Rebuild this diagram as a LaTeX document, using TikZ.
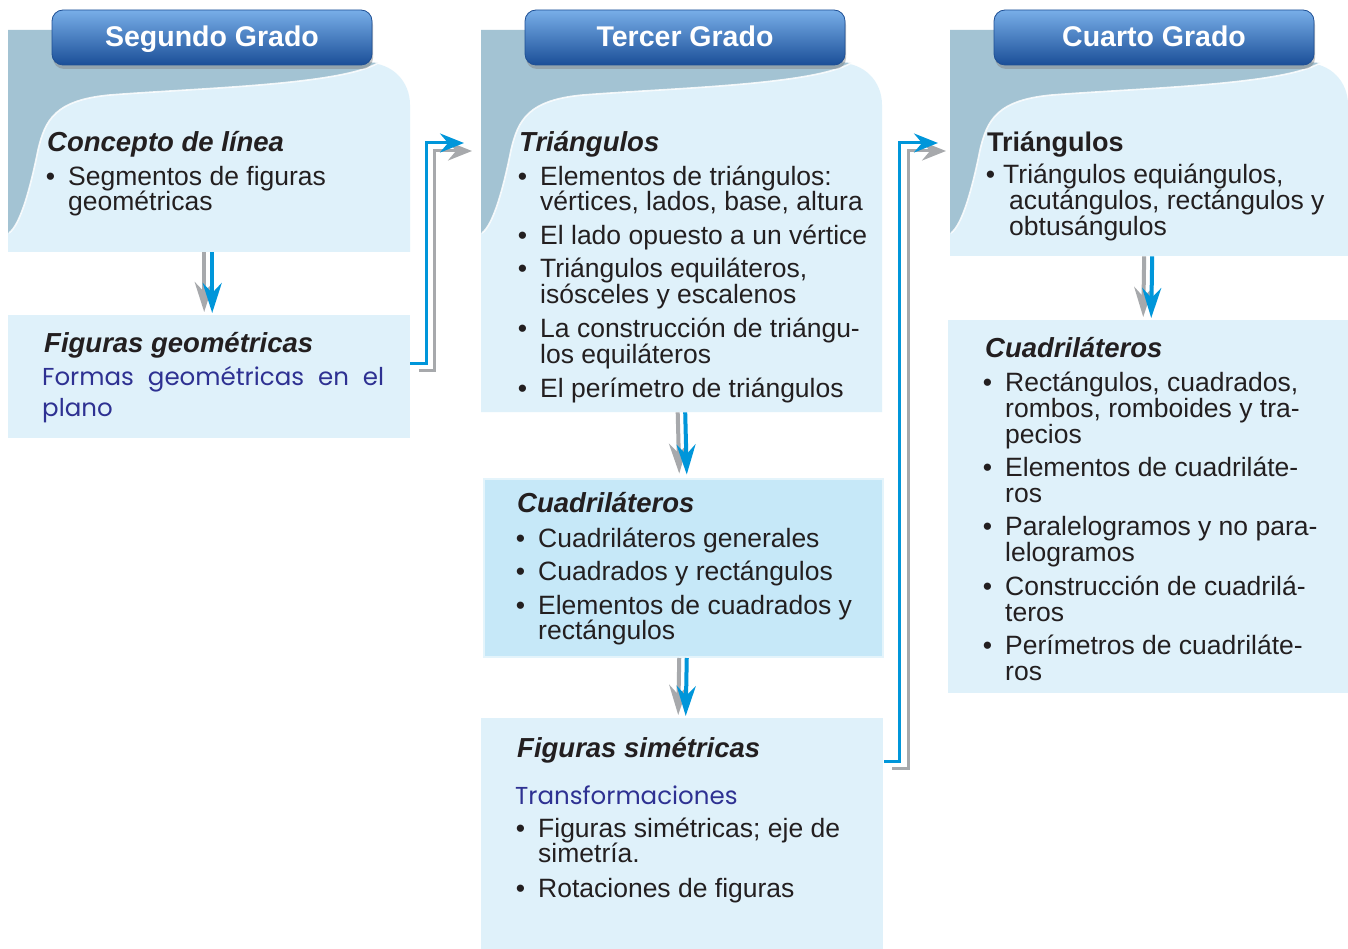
\documentclass[tikz,border=0pt]{standalone}
\usepackage{fontspec}
\setmainfont{Liberation Sans}
\newfontfamily\geofont{Poppins}
\usetikzlibrary{arrows.meta,shadows}
\definecolor{panelc}{HTML}{DFF1FA}
\definecolor{darkc}{HTML}{A3C3D3}
\definecolor{cuadc}{HTML}{C6E8F8}
\definecolor{cuadborder}{HTML}{E4F4FB}
\definecolor{textc}{HTML}{231F20}
\definecolor{geoblue}{HTML}{2E3192}
\definecolor{arrblue}{HTML}{0096DA}
\definecolor{arrgray}{HTML}{A7A9AC}
\definecolor{bantop}{HTML}{78AEE8}
\definecolor{banmid}{HTML}{2A73C6}
\definecolor{banbot}{HTML}{1B4F98}
\definecolor{banedge}{HTML}{1E4F94}
\newcommand\bul{\llap{\textbullet\hspace{13pt}}}
\newcommand\bulb{\llap{\textbullet\hspace{8pt}}}
\newcommand\txtline[4]{\node[txt] (#1) at (#2,#3) {#4};}
\newcommand\gradepanel[5]{%
 \begin{scope}[xshift=#1pt]
  \fill[panelc] (8,#3) -- (8,63) -- (#2-42,63) .. controls (#2-18,63) and (#2,81) .. (#2,105) -- (#2,#3) -- cycle;
  \fill[darkc] (8,30) -- (366,30) -- (366,62) -- (378,63) .. controls (340,85) and (200,88) .. (110,95)
     .. controls (55,100) and (45,120) .. (38,150) .. controls (30,190) and (20,225) .. (9,233) -- (8,233) -- cycle;
  \draw[white, line width=1.6pt, opacity=0.85] (378,63) .. controls (340,85) and (200,88) .. (110,95)
     .. controls (55,100) and (45,120) .. (38,150) .. controls (30,190) and (20,225) .. (9,233);
  \node[banner] (#5) at (212,37.5) {#4};
 \end{scope}}
\begin{document}
\begin{tikzpicture}[x=1pt,y=-1pt,
  txt/.style={inner sep=0pt, anchor=base west, text=textc, font=\fontsize{26.5}{26}\selectfont},
  hdbi/.style={txt, font=\fontsize{27.5}{28}\selectfont\bfseries\itshape},
  hdb/.style={txt, font=\fontsize{27}{28}\selectfont\bfseries},
  geo/.style={txt, text=geoblue, font=\fontsize{24.5}{26}\geofont},
  banner/.style={rounded corners=11pt, minimum width=320pt, minimum height=55pt, inner sep=0pt,
     top color=bantop, middle color=banmid, bottom color=banbot, draw=banedge, line width=0.8pt,
     text=white, font=\fontsize{28.5}{30}\selectfont\bfseries, text height=20pt, text depth=1pt,
     drop shadow={opacity=0.45, shadow xshift=1pt, shadow yshift=-4pt}},
  area/.style={inner sep=0pt, anchor=north west},
  lightbox/.style={area, fill=panelc},
  cuadbox/.style={area, fill=cuadc, draw=cuadborder, line width=2.5pt},
  downblue/.style={draw=arrblue, line width=4pt, -{Stealth[length=30pt,width=19pt,inset=10pt]}},
  downgray/.style={draw=arrgray, line width=4pt, -{Stealth[length=30pt,width=19pt,inset=10pt]}},
  elbblue/.style={draw=arrblue, line width=3pt, miter limit=10, -{Stealth[length=24pt,width=19pt,inset=8pt]}},
  elbgray/.style={draw=arrgray, line width=3pt, miter limit=10, -{Stealth[length=24pt,width=19pt,inset=8pt]}}
]
\useasboundingbox (0,0) rectangle (1348,949);
\fill[white] (0,0) rectangle (1348,949);

% invisible panel areas
\node[area, minimum width=402pt, minimum height=222pt] (p1) at (8,30) {};
\node[area, minimum width=401pt, minimum height=382pt] (p2) at (481,30) {};
\node[area, minimum width=398pt, minimum height=226pt] (p3) at (950,30) {};

% panels with banners
\gradepanel{0}{410}{252}{Segundo Grado}{ban1}
\gradepanel{473}{409}{412}{Tercer Grado}{ban2}
\gradepanel{942}{406}{256}{Cuarto Grado}{ban3}

% boxes
\node[lightbox, minimum width=402pt, minimum height=123pt] (b1) at (8,315) {};
\node[cuadbox, minimum width=399pt, minimum height=178pt] (c2) at (482.5,477.5) {};
\node[lightbox, minimum width=402pt, minimum height=231pt] (f2) at (481,718) {};
\node[lightbox, minimum width=400pt, minimum height=373pt] (c3) at (948,320) {};

% vertical arrows
\draw[downgray] ([xshift=-5pt]p1.south) -- ([xshift=-5pt,yshift=3pt]b1.north);
\draw[downblue] ([xshift=3pt]p1.south) -- ([xshift=3pt,yshift=2pt]b1.north);
\draw[downgray] ([xshift=-4pt]p2.south) -- ([xshift=-4pt,yshift=4pt]c2.north);
\draw[downblue] ([xshift=3.5pt]p2.south) -- ([xshift=3.5pt,yshift=3pt]c2.north);
\draw[downgray] ([xshift=-4pt]c2.south) -- ([xshift=-4pt,yshift=3pt]f2.north);
\draw[downblue] ([xshift=3.5pt]c2.south) -- ([xshift=3.5pt,yshift=2pt]f2.north);
\draw[downgray] ([xshift=-5pt]p3.south) -- ([xshift=-5pt,yshift=3pt]c3.north);
\draw[downblue] ([xshift=3pt]p3.south) -- ([xshift=3pt,yshift=2pt]c3.north);

% elbow connectors
\coordinate (e1b) at (464,143);
\coordinate (e1g) at (472,151);
\coordinate (e2b) at (938,143);
\coordinate (e2g) at (946,151);
\draw[elbgray] ([xshift=9pt,yshift=6.5pt]b1.east) -- ++(15,0) |- (e1g);
\draw[elbblue] ([yshift=13.5pt]b1.east) -- ++(16,0) |- (e1b);
\draw[elbgray] ([xshift=9pt,yshift=65.5pt]f2.east) -- ++(16,0) |- (e2g);
\draw[elbblue] ([xshift=1pt,yshift=72.5pt]f2.east) -- ++(15,0) |- (e2b);

% column 1 texts
\node[hdbi] (h1) at (47,152) {Concepto de línea};
\txtline{a1}{68}{186}{\bul Segmentos de figuras}
\txtline{a2}{68}{211}{geométricas}
\node[hdbi] (h2) at (44,352) {Figuras geométricas};
\node[geo] (g1) at (42,385) {\makebox[342pt][s]{Formas geométricas en el}};
\node[geo] (g2) at (42,416) {plano};

% column 2 texts
\node[hdbi] (h3) at (519,152) {Triángulos};
\txtline{b01}{540}{186}{\bul Elementos de triángulos:}
\txtline{b02}{540}{211}{vértices, lados, base, altura}
\txtline{b03}{540}{245}{\bul El lado opuesto a un vértice}
\txtline{b04}{540}{278}{\bul Triángulos equiláteros,}
\txtline{b05}{540}{304}{isósceles y escalenos}
\txtline{b06}{540}{337}{\bul La construcción de triángu-}
\txtline{b07}{540}{363}{los equiláteros}
\txtline{b08}{540}{397}{\bul El perímetro de triángulos}

\node[hdbi] (h4) at (517,512) {Cuadriláteros};
\txtline{c01}{538}{547}{\bul Cuadriláteros generales}
\txtline{c02}{538}{580}{\bul Cuadrados y rectángulos}
\txtline{c03}{538}{614}{\bul Elementos de cuadrados y}
\txtline{c04}{538}{639}{rectángulos}

\node[hdbi] (h5) at (517,757) {Figuras simétricas};
\node[geo] (g3) at (515,804) {Transformaciones};
\txtline{d01}{538}{837}{\bul Figuras simétricas; eje de}
\txtline{d02}{538}{862}{simetría.}
\txtline{d03}{538}{897}{\bul Rotaciones de figuras}

% column 3 texts
\node[hdb] (h6) at (987,152) {Triángulos};
\txtline{e01}{1003}{184}{\bulb Triángulos equiángulos,}
\txtline{e02}{1009}{210}{acutángulos, rectángulos y}
\txtline{e03}{1009}{236}{obtusángulos}

\node[hdbi] (h7) at (985,357) {Cuadriláteros};
\txtline{f01}{1005}{391}{\bul Rectángulos, cuadrados,}
\txtline{f02}{1005}{417}{rombos, romboides y tra-}
\txtline{f03}{1005}{443}{pecios}
\txtline{f04}{1005}{476}{\bul Elementos de cuadriláte-}
\txtline{f05}{1005}{502}{ros}
\txtline{f06}{1005}{535}{\bul Paralelogramos y no para-}
\txtline{f07}{1005}{561}{lelogramos}
\txtline{f08}{1005}{595}{\bul Construcción de cuadrilá-}
\txtline{f09}{1005}{621}{teros}
\txtline{f10}{1005}{654}{\bul Perímetros de cuadriláte-}
\txtline{f11}{1005}{680}{ros}
\end{tikzpicture}
\end{document}
